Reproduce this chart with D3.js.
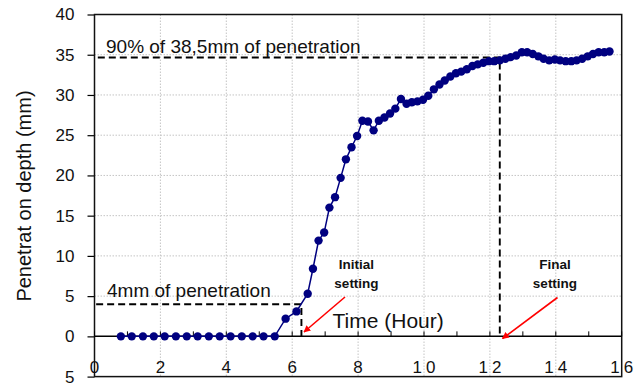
<!DOCTYPE html>
<html>
<head>
<meta charset="utf-8">
<script src="https://cdn.jsdelivr.net/npm/d3@7"></script>
<style>
  html, body { margin: 0; padding: 0; background: #fff; }
  svg { display: block; font-family: "Liberation Sans", Arial, sans-serif; }
</style>
</head>
<body>
<svg id="chart" width="643" height="386"></svg>
<script>
// Penetration test readings: elapsed time (hours) and penetration depth (mm)
const timeHours = [
  0.80, 1.13, 1.47, 1.80, 2.13, 2.47, 2.80, 3.13, 3.47, 3.80, 4.13, 4.47, 4.80, 5.13, 5.47,
  5.80, 6.13, 6.47, 6.63, 6.80, 6.97, 7.13, 7.30, 7.47, 7.63, 7.80, 7.97, 8.13, 8.30, 8.47,
  8.63, 8.80, 8.97, 9.13, 9.30, 9.47, 9.63, 9.80, 9.97, 10.13, 10.30, 10.47, 10.63, 10.80,
  10.97, 11.13, 11.30, 11.47, 11.63, 11.80, 11.97, 12.13, 12.30, 12.47, 12.63, 12.80, 12.97,
  13.13, 13.30, 13.47, 13.63, 13.80, 13.97, 14.13, 14.30, 14.47, 14.63, 14.80, 14.97, 15.13,
  15.30, 15.47, 15.63
];
const depthMm = [
  0, 0, 0, 0, 0, 0, 0, 0, 0, 0, 0, 0, 0, 0, 0,
  2.2, 3.1, 5.3, 8.4, 11.9, 12.9, 16.0, 17.3, 19.7, 22.0, 23.5, 24.9, 26.8, 26.7, 25.6,
  26.8, 27.2, 27.7, 28.3, 29.5, 28.9, 29.1, 29.2, 29.4, 29.9, 30.7, 31.3, 31.8, 32.3,
  32.7, 32.9, 33.2, 33.6, 33.8, 34.0, 34.2, 34.2, 34.3, 34.5, 34.7, 34.9, 35.3,
  35.3, 35.1, 34.8, 34.5, 34.3, 34.4, 34.3, 34.2, 34.2, 34.3, 34.5, 34.8, 35.1,
  35.3, 35.3, 35.4
];

// Axis ticks and their printed labels
const xTicks = [0, 2, 4, 6, 8, 10, 12, 14, 16];
const xTickLabels = ["0", "2", "4", "6", "8", "10", "12", "14", "16"];
const xMinorTicks = [1, 3, 5, 7, 9, 11, 13, 15];
const yTicks = [-5, 0, 5, 10, 15, 20, 25, 30, 35, 40];
const yTickLabels = ["5", "0", "5", "10", "15", "20", "25", "30", "35", "40"];

// Setting thresholds
const initialDepth = 4;        // mm, initial setting
const initialTime = 6.28;      // h
const finalDepth = 34.65;      // mm, 90% of 38.5 mm
const finalTime = 12.3;        // h

const svg = d3.select("#chart");
const plotLeft = 94.5, plotRight = 621.7, plotTop = 14.5, plotBottom = 376.6;

const x = d3.scaleLinear().domain([0, 16]).range([plotLeft, plotRight]);
const y = d3.scaleLinear().domain([-5, 40]).range([plotBottom, plotTop]);

// Arrowhead marker for the callouts
svg.append("defs").append("marker")
  .attr("id", "arrowRed")
  .attr("viewBox", "0 0 10 10")
  .attr("refX", 9).attr("refY", 5)
  .attr("markerWidth", 7).attr("markerHeight", 7)
  .attr("markerUnits", "userSpaceOnUse")
  .attr("orient", "auto")
  .append("path")
  .attr("d", "M0,0 L10,5 L0,10 Z")
  .attr("fill", "#ff0000");

// Grid
const grid = svg.append("g").attr("stroke", "#c4c4c4").attr("stroke-width", 1)
  .attr("stroke-dasharray", "1.5,1.5");
grid.selectAll("line.gx").data(xTicks.filter(d => d > 0 && d < 16)).join("line")
  .attr("x1", d => x(d)).attr("x2", d => x(d))
  .attr("y1", plotTop).attr("y2", plotBottom);
grid.selectAll("line.gy").data(yTicks.filter(d => d > 0 && d < 40)).join("line")
  .attr("x1", plotLeft).attr("x2", plotRight)
  .attr("y1", d => y(d)).attr("y2", d => y(d));

// Y axis with outward ticks
const yAxis = d3.axisLeft(y).tickValues(yTicks).tickSize(7).tickPadding(13)
  .tickFormat((d, i) => yTickLabels[i]);
const gy = svg.append("g").attr("transform", `translate(${plotLeft},0)`).call(yAxis);
gy.select(".domain").remove();
gy.selectAll(".tick line").attr("stroke", "#000").attr("stroke-width", 1.2);
gy.selectAll(".tick text").attr("font-size", 17).attr("fill", "#111")
  .attr("font-family", "Liberation Sans, Arial, sans-serif");

// Frame around the plot area
svg.append("rect")
  .attr("x", plotLeft).attr("y", plotTop)
  .attr("width", plotRight - plotLeft).attr("height", plotBottom - plotTop)
  .attr("fill", "none").attr("stroke", "#111").attr("stroke-width", 1.5);

// Horizontal time axis at zero depth
svg.append("line")
  .attr("x1", plotLeft).attr("x2", plotRight)
  .attr("y1", y(0)).attr("y2", y(0))
  .attr("stroke", "#000").attr("stroke-width", 1.5);
svg.append("g").selectAll("line").data(xTicks.concat(xMinorTicks)).join("line")
  .attr("x1", d => x(d)).attr("x2", d => x(d))
  .attr("y1", y(0) - 5).attr("y2", y(0))
  .attr("stroke", "#000").attr("stroke-width", 1);

// X tick labels along the bottom edge
svg.append("g").selectAll("text").data(xTicks).join("text")
  .attr("x", d => x(d) + (d >= 10 ? 2 : 0))
  .attr("y", 373)
  .attr("text-anchor", "middle")
  .attr("font-size", 17)
  .attr("letter-spacing", (d) => d >= 10 ? "4px" : "0px")
  .attr("fill", "#111")
  .text((d, i) => xTickLabels[i]);

// Y axis title
svg.append("text")
  .attr("transform", "translate(31,196) rotate(-90)")
  .attr("text-anchor", "middle")
  .attr("font-size", 20)
  .attr("fill", "#111")
  .text("Penetrat on depth (mm)");

// Reference dashed lines
const dash = svg.append("g").attr("stroke", "#000").attr("stroke-width", 1.9)
  .attr("stroke-dasharray", "7,4").attr("fill", "none");
dash.append("path")
  .attr("d", d3.line()([[x(0.1), y(finalDepth)], [x(finalTime), y(finalDepth)], [x(finalTime), y(0)]]));
dash.append("path")
  .attr("d", d3.line()([[x(0.05), y(initialDepth)], [x(initialTime), y(initialDepth)], [x(initialTime), y(-0.5)]]));

// Data line and markers
const pts = timeHours.map((t, i) => [t, depthMm[i]]);
svg.append("path")
  .datum(pts)
  .attr("fill", "none").attr("stroke", "#000080").attr("stroke-width", 1.5)
  .attr("d", d3.line().x(d => x(d[0])).y(d => y(d[1])));
svg.append("g").selectAll("circle").data(pts).join("circle")
  .attr("cx", d => x(d[0])).attr("cy", d => y(d[1]))
  .attr("r", 4.2).attr("fill", "#000080");

// Annotation texts
svg.append("text").attr("x", 106).attr("y", 52.5).attr("font-size", 19).attr("fill", "#111")
  .text("90% of 38,5mm of penetration");
svg.append("text").attr("x", 107).attr("y", 297).attr("font-size", 19).attr("fill", "#111")
  .text("4mm of penetration");
svg.append("text").attr("x", 332.5).attr("y", 327.5).attr("font-size", 21).attr("fill", "#111")
  .text("Time (Hour)");

const callout = (cx, lines) => {
  const t = svg.append("text").attr("text-anchor", "middle").attr("font-size", 13.5)
    .attr("font-weight", "bold").attr("fill", "#111");
  lines.forEach((s, i) => t.append("tspan").attr("x", cx).attr("y", 268.5 + i * 19).text(s));
};
callout(356.5, ["Initial", "setting"]);
callout(555, ["Final", "setting"]);

// Red arrows pointing at the setting times
svg.append("line").attr("x1", 345).attr("y1", 297).attr("x2", 304).attr("y2", 332)
  .attr("stroke", "#ff0000").attr("stroke-width", 1.6).attr("marker-end", "url(#arrowRed)");
svg.append("line").attr("x1", 557.5).attr("y1", 297.5).attr("x2", 502.5).attr("y2", 338.5)
  .attr("stroke", "#ff0000").attr("stroke-width", 1.6).attr("marker-end", "url(#arrowRed)");
</script>
</body>
</html>
